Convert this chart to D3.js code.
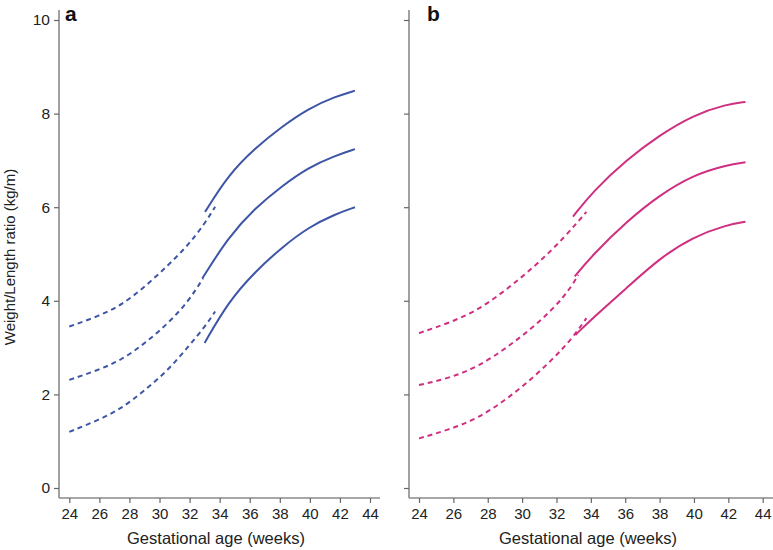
<!DOCTYPE html>
<html><head><meta charset="utf-8">
<script src="https://cdn.jsdelivr.net/npm/d3@7"></script>
<style>body{margin:0;background:#fff}svg{display:block;font-family:"Liberation Sans",Arial,sans-serif}</style>
</head><body><svg id="c" width="773" height="550"></svg>
<script>
// ---- data (weeks, weight/length ratio kg/m) ----
const xTicks = [24,26,28,30,32,34,36,38,40,42,44];
const yTicks = [0,2,4,6,8,10];
// panel a (blue)
const aUpperDashed  = [[24,3.45],[25.93,3.67],[27.49,3.91],[29.03,4.30],[30.58,4.76],[31.91,5.19],[33.03,5.66],[33.7,6.01]];
const aMiddleDashed = [[24,2.31],[25.93,2.52],[27.49,2.74],[29.03,3.09],[30.58,3.52],[31.91,3.98],[32.9,4.48]];
const aLowerDashed  = [[24,1.20],[25.93,1.45],[27.49,1.70],[29.03,2.09],[30.58,2.52],[31.91,3.02],[33.03,3.45],[33.7,3.77]];
const aUpperSolid   = [[33.03,5.90],[34.58,6.69],[36.35,7.26],[38.13,7.72],[39.9,8.11],[41.67,8.36],[43,8.49]];
const aMiddleSolid  = [[32.85,4.48],[34.58,5.36],[36.35,5.98],[38.13,6.45],[39.9,6.85],[41.67,7.10],[43,7.24]];
const aLowerSolid   = [[33.0,3.10],[34.58,3.98],[36.35,4.62],[38.13,5.14],[39.9,5.57],[41.67,5.85],[43,6.0]];
// panel b (magenta)
const bUpperDashed  = [[24,3.31],[25.7,3.52],[27.45,3.80],[29.2,4.27],[30.94,4.80],[32.5,5.37],[33.74,5.90]];
const bMiddleDashed = [[24,2.20],[25.7,2.34],[27.45,2.59],[29.2,3.02],[30.94,3.52],[32.5,4.09],[33.27,4.55]];
const bLowerDashed  = [[24,1.06],[25.7,1.24],[27.45,1.49],[29.2,1.92],[30.94,2.45],[32.5,3.02],[33.27,3.38],[33.74,3.63]];
const bUpperSolid   = [[32.96,5.80],[34.1,6.33],[36.07,7.01],[38.0,7.54],[39.97,7.97],[41.9,8.20],[43,8.25]];
const bMiddleSolid  = [[33.06,4.52],[34.1,4.98],[36.07,5.69],[38.0,6.26],[39.97,6.69],[41.9,6.90],[43,6.96]];
const bLowerSolid   = [[33.1,3.27],[34.1,3.63],[36.07,4.27],[38.0,4.91],[39.97,5.37],[41.9,5.62],[43,5.69]];

const svg = d3.select("#c");
const axisColor = "#8a8a8a";
const y = d3.scaleLinear().domain([0,10]).range([488,20]);

const panels = [
  {label:"a", x0:59, x1:380, range:[69.3,370], color:"#3d55a6", showY:true, labelX:65, xlabX:216,
   dashed:[aUpperDashed,aMiddleDashed,aLowerDashed], solid:[aUpperSolid,aMiddleSolid,aLowerSolid]},
  {label:"b", x0:409, x1:773, range:[419,762.7], color:"#cf2f80", showY:false, labelX:427, xlabX:588,
   dashed:[bUpperDashed,bMiddleDashed,bLowerDashed], solid:[bUpperSolid,bMiddleSolid,bLowerSolid]}
];

panels.forEach(p => {
  const x = d3.scaleLinear().domain([24,44]).range(p.range);
  const g = svg.append("g");
  g.append("line").attr("x1",p.x0).attr("x2",p.x0).attr("y1",10).attr("y2",498)
    .attr("stroke",axisColor).attr("stroke-width",1.6);
  g.append("line").attr("x1",p.x0).attr("x2",p.x1).attr("y1",498).attr("y2",498)
    .attr("stroke",axisColor).attr("stroke-width",1.6);
  const yAxis = d3.axisLeft(y).tickValues(yTicks).tickSize(5).tickPadding(4)
    .tickFormat(p.showY ? d3.format("d") : () => "");
  const ya = g.append("g").attr("transform",`translate(${p.x0},0)`).call(yAxis);
  ya.select(".domain").remove();
  ya.selectAll("line").attr("stroke","#666").attr("stroke-width",1.2);
  ya.selectAll("text").attr("font-size",15.5).attr("fill","#222").attr("font-family","Liberation Sans, Arial, sans-serif");
  const xAxis = d3.axisBottom(x).tickValues(xTicks).tickSize(5).tickPadding(5).tickFormat(d3.format("d"));
  const xa = g.append("g").attr("transform","translate(0,498)").call(xAxis);
  xa.select(".domain").remove();
  xa.selectAll("line").attr("stroke","#666").attr("stroke-width",1.2);
  xa.selectAll("text").attr("font-size",15).attr("fill","#222").attr("font-family","Liberation Sans, Arial, sans-serif");
  g.append("text").attr("x",p.xlabX).attr("y",544).attr("text-anchor","middle")
    .attr("font-size",16.5).attr("fill","#222").text("Gestational age (weeks)");
  g.append("text").attr("x",p.labelX).attr("y",21).attr("font-size",21).attr("font-weight","bold")
    .attr("fill","#111").text(p.label);
  const line = d3.line().x(d=>x(d[0])).y(d=>y(d[1])).curve(d3.curveBasis);
  p.dashed.forEach(s => g.append("path").attr("d",line(s)).attr("fill","none")
    .attr("stroke",p.color).attr("stroke-width",2).attr("stroke-dasharray","5,4"));
  p.solid.forEach(s => g.append("path").attr("d",line(s)).attr("fill","none")
    .attr("stroke",p.color).attr("stroke-width",2));
});

svg.append("text").attr("transform","translate(15,257) rotate(-90)").attr("text-anchor","middle")
  .attr("font-size",15).attr("fill","#222").text("Weight/Length ratio (kg/m)");
</script></body></html>
